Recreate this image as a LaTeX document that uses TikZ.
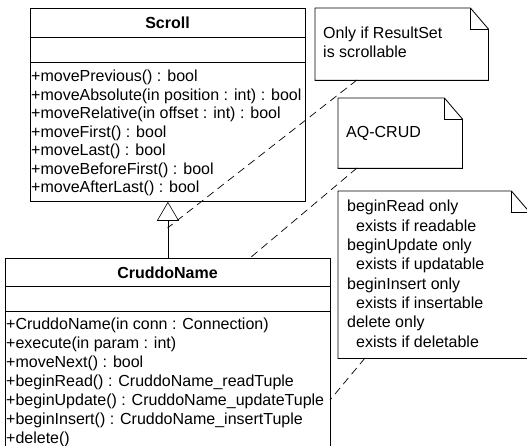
\documentclass[tikz,border=0pt]{standalone}
\usepackage{fontspec}
\setmainfont{Liberation Sans}
\usetikzlibrary{arrows.meta}

\begin{document}
\begin{tikzpicture}[x=1pt,y=-1pt,
  box/.style={draw,line width=0.8pt,inner sep=0pt,anchor=north west},
  member/.style={anchor=base west,inner sep=0pt,font=\fontsize{16}{19}\selectfont},
  classname/.style={anchor=base,inner sep=0pt,font=\fontsize{16}{19}\selectfont\bfseries},
  gen/.style={-{Triangle[open,length=19pt,width=22pt]},line width=0.6pt},
  link/.style={dash pattern=on 8pt off 5pt,line width=0.7pt}]
\clip (0,0) rectangle (527,446);
% class Scroll
\node[box,minimum width=275pt,minimum height=193pt] (scroll) at (30,8) {};
\draw[line width=0.8pt] (30,37) -- (305,37);
\draw[line width=0.8pt] (30,62) -- (305,62);
\node[classname] (scrollname) at (167.5,29) {Scroll};
\foreach \i/\m in {0/{+movePrevious() : bool},1/{+moveAbsolute(in position : int) : bool},2/{+moveRelative(in offset : int) : bool},3/{+moveFirst() : bool},4/{+moveLast() : bool},5/{+moveBeforeFirst() : bool},6/{+moveAfterLast() : bool}} \node[member] (scrollop\i) at (31,82+18.5*\i) {\m};
% class CruddoName
\node[box,minimum width=325pt,minimum height=220pt] (crud) at (5,258) {};
\draw[line width=0.8pt] (5,286) -- (330,286);
\draw[line width=0.8pt] (5,311) -- (330,311);
\node[classname] (crudname) at (167.5,278) {CruddoName};
\foreach \i/\m in {0/{+CruddoName(in conn : Connection)},1/{+execute(in param : int)},2/{+moveNext() : bool},3/{+beginRead() : CruddoName\_readTuple},4/{+beginUpdate() : CruddoName\_updateTuple},5/{+beginInsert() : CruddoName\_insertTuple},6/{+delete()}} \node[member] (crudop\i) at (6,329+19.1*\i) {\m};
\draw[gen] (crud.north) -- (scroll.south);
% notes
\node[anchor=north west,minimum width=173pt,minimum height=72pt] (note1) at (315,8) {};
\node[anchor=north west,minimum width=124pt,minimum height=70pt] (note2) at (338,98) {};
\node[anchor=north west,minimum width=191pt,minimum height=167pt] (note3) at (338,191) {};
\foreach \n in {note1,note2,note3} {
  \draw[line width=0.8pt] (\n.north west) -- ([xshift=-18pt]\n.north east) -- ([yshift=-21pt]\n.north east) -- (\n.south east) -- (\n.south west) -- cycle;
  \draw[line width=0.8pt] ([xshift=-18pt]\n.north east) |- ([yshift=-21pt]\n.north east);
}
\node[member] (note1a) at (323,39) {Only if ResultSet};
\node[member] (note1b) at (323,58) {is scrollable};
\node[member] (note2a) at (346,138) {AQ-CRUD};
\foreach \i/\m in {0/{beginRead only},1/{\hspace{9pt}exists if readable},2/{beginUpdate only},3/{\hspace{9pt}exists if updatable},4/{beginInsert only},5/{\hspace{9pt}exists if insertable},6/{delete only},7/{\hspace{9pt}exists if deletable}} \node[member] (note3l\i) at (347,212+19.3*\i) {\m};
% anchors of the dashed links
\coordinate (note1foot) at (357,80);
\coordinate (note2foot) at (357,168);
\coordinate (note3foot) at (365,358);
\coordinate (genpoint) at (167.5,228);
\coordinate (crudtop) at (250,258);
\coordinate (crudside) at (330,400);
\draw[link] (note1foot) -- (genpoint);
\draw[link] (note2foot) -- (crudtop);
\draw[link] (note3foot) -- (crudside);
\end{tikzpicture}
\end{document}
